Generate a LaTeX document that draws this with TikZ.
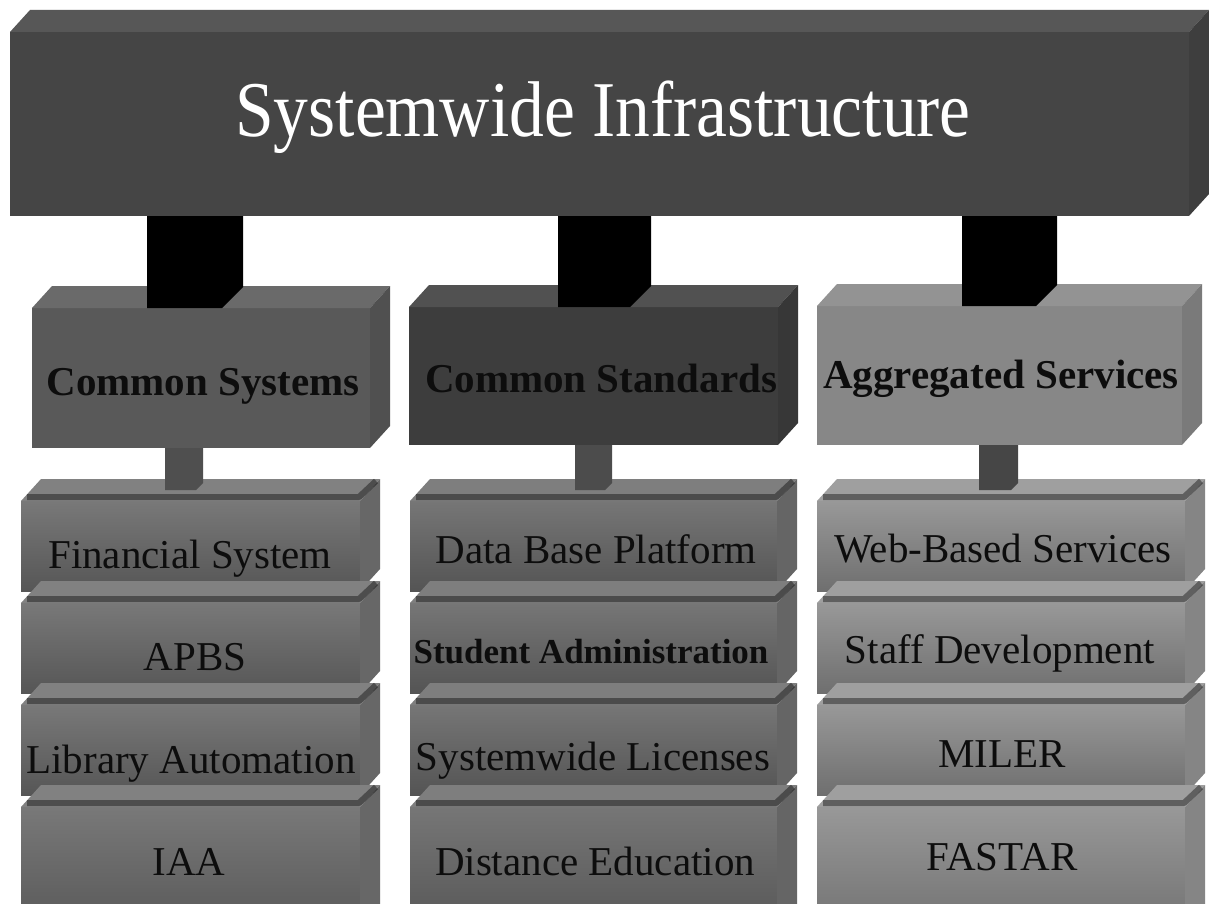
\documentclass[tikz,border=0pt]{standalone}
\usepackage{fontspec}
\setmainfont{Liberation Serif}
\usetikzlibrary{calc}

% grey levels of the blocks
\definecolor{bannerc}{gray}{0.27}
\definecolor{sysc}{gray}{0.35}
\definecolor{stdc}{gray}{0.24}
\definecolor{aggc}{gray}{0.53}
\definecolor{leftc}{gray}{0.45}
\definecolor{midc}{gray}{0.44}
\definecolor{rightc}{gray}{0.58}
\definecolor{inkc}{gray}{0.05}

\tikzset{
  slabfront/.style={rectangle, inner sep=0pt, outer sep=0pt, anchor=north west},
  titletext/.style={text=white, inner sep=0pt, font=\fontsize{79}{79}\selectfont},
  headtext/.style={text=inkc, inner sep=0pt, font=\fontsize{41}{41}\selectfont\bfseries},
  itemtext/.style={text=inkc, inner sep=0pt, font=\fontsize{41}{41}\selectfont},
  itembold/.style={text=inkc, inner sep=0pt, font=\fontsize{35}{35}\selectfont\bfseries},
  edgeband/.style={draw=black, draw opacity=0.4, line width=6pt, line join=round},
}

% a block seen from the front: front face (named node), top face, right face
% #1 name, #2 left x, #3 right x, #4 top y, #5 bottom y, #6 colour, #7 front options
\newcommand\slab[7]{%
  \node[slabfront, fill=#6, #7, minimum width={#3-#2-20}, minimum height={#5-#4-22}] (#1) at (#2,#4+22) {};
  \fill[#6!90!white] (#1.north west) -- ++(20,-22) -- ([shift={(20,-22)}]#1.north east) -- (#1.north east) -- cycle;
  \fill[#6!90!black] (#1.north east) -- ++(20,-22) -- ([shift={(20,-22)}]#1.south east) -- (#1.south east) -- cycle;
}

% one block of a stack, with a shadowed front and a dark top edge
\newcommand\stackslab[6]{%
  \slab{#1}{#2}{#3}{#4}{#5}{#6}{top color=#6!96!white, bottom color=#6!75!black}
  \draw[edgeband] ([shift={(6,-4)}]#1.north west) -- ([shift={(-1,-4)}]#1.north east) -- ([shift={(16,-20)}]#1.north east);
}

% a post joining an upper block to the block below it
% #1 upper node, #2 lower node, #3 left offset, #4 right offset, #5 end shift, #6 bevel, #7 colour
\newcommand\post[7]{%
  \coordinate (pl) at ($(#2.north)+(#3,#5)$);
  \coordinate (pr) at ($(#2.north)+(#4,#5)$);
  \fill[#7] (pl |- #1.south) -- (pr |- #1.south) -- ($(pr)+(0,-#6)$) -- ($(pr)+(-#6,0)$) -- (pl) -- cycle;
}

\begin{document}
\begin{tikzpicture}[x=1pt,y=-1pt]
\useasboundingbox (0,0) rectangle (1209,904);
\fill[white] (0,0) rectangle (1209,904);
\clip (0,0) rectangle (1209,904);

% top banner
\slab{infra}{10}{1209}{10}{216}{bannerc}{}
\node[titletext, anchor=base] (title) at (603,137) {\scalebox{0.88}[1]{Systemwide Infrastructure}};

% the three middle blocks
\slab{csys}{32}{390}{286}{448}{sysc}{}
\slab{cstd}{409}{798}{285}{445}{stdc}{}
\slab{agg}{817}{1202}{284}{445}{aggc}{}

% posts under the banner
\post{infra}{csys}{-54}{42}{0}{21}{black}
\post{infra}{cstd}{-35.5}{57.5}{0}{21}{black}
\post{infra}{agg}{-37.5}{57.5}{0}{21}{black}

\node[headtext, anchor=base] (csysT) at (203,395) {Common Systems};
\node[headtext, anchor=base] (cstdT) at (601,392) {Common Standards};
\node[headtext, anchor=base] (aggT) at (1001,388) {Aggregated Services};

% left stack
\stackslab{fin}{21}{380}{479}{591}{leftc}
\stackslab{apbs}{21}{380}{581}{693}{leftc}
\stackslab{lib}{21}{380}{683}{795}{leftc}
\stackslab{iaa}{21}{380}{785}{940}{leftc}

% middle stack
\stackslab{dbp}{410}{797}{479}{591}{midc}
\stackslab{sadm}{410}{797}{581}{693}{midc}
\stackslab{swl}{410}{797}{683}{795}{midc}
\stackslab{dist}{410}{797}{785}{940}{midc}

% right stack
\stackslab{web}{817}{1205}{479}{591}{rightc}
\stackslab{staff}{817}{1205}{581}{693}{rightc}
\stackslab{miler}{817}{1205}{683}{795}{rightc}
\stackslab{fastar}{817}{1205}{785}{940}{rightc}

% short posts into the stacks
\post{csys}{fin}{-25.5}{12.5}{-11}{7}{gray!62!black}
\post{cstd}{dbp}{-18.5}{18.5}{-11}{7}{gray!60!black}
\post{agg}{web}{-22}{17}{-11}{7}{gray!55!black}

% stack labels
\node[itemtext, anchor=base] (finT) at (190,568) {Financial System};
\node[itemtext, anchor=base] (apbsT) at (195,670) {APBS};
\node[itemtext, anchor=base] (libT) at (191,773) {Library Automation};
\node[itemtext, anchor=base] (iaaT) at (189,875) {IAA};

\node[itemtext, anchor=base] (dbpT) at (596,563) {Data Base Platform};
\node[itembold, anchor=base] (sadmT) at (591,663) {Student Administration};
\node[itemtext, anchor=base] (swlT) at (593,770) {Systemwide Licenses};
\node[itemtext, anchor=base] (distT) at (595,875) {Distance Education};

\node[itemtext, anchor=base] (webT) at (1003,562) {Web-Based Services};
\node[itemtext, anchor=base] (staffT) at (1000,663) {Staff Development};
\node[itemtext, anchor=base] (milerT) at (1002,767) {MILER};
\node[itemtext, anchor=base] (fastarT) at (1002,870) {FASTAR};
\end{tikzpicture}
\end{document}
